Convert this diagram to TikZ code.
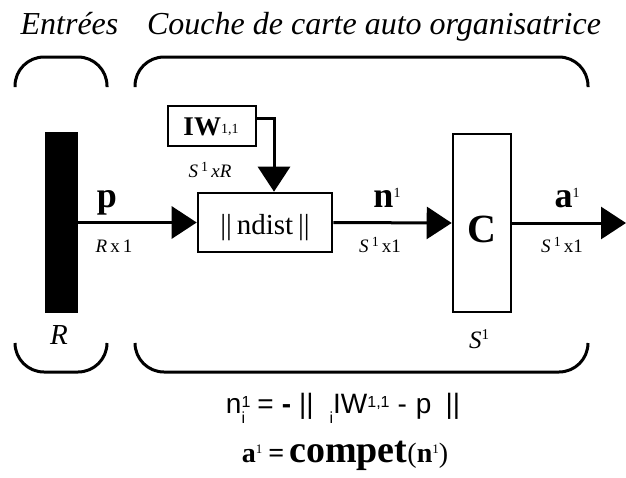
\documentclass[tikz,border=0pt]{standalone}
\usepackage{fontspec}
\setmainfont{Liberation Serif}
\setsansfont{Liberation Sans}
\usetikzlibrary{arrows.meta}
\newcommand{\fs}[1]{\fontsize{#1}{#1}\selectfont}
\newcommand{\sups}[3]{\raisebox{#2}{\fs{#3}#1}}
\begin{document}
\begin{tikzpicture}[x=1pt,y=-1pt,
  box/.style={draw, line width=2.6pt, inner sep=0pt},
  conn/.style={line width=3pt, -{Triangle[length=25pt,width=32pt]}},
  brk/.style={line width=3pt, rounded corners=29pt},
  lbl/.style={anchor=base, inner sep=0pt},
  dim/.style={anchor=base, inner sep=0pt, font=\fs{19}\itshape}]
\useasboundingbox (0,0) rectangle (626,477);
% titles
\node[lbl, font=\fs{32}\itshape] (t1) at (69.5,34) {Entrées};
\node[lbl, font=\fs{32}\itshape] (t2) at (374,34) {Couche de carte auto organisatrice};
% brackets
\draw[brk] (15,87) -- (15,57) -- (107,57) -- (107,87);
\draw[brk] (135,87) -- (135,57) -- (588,57) -- (588,87);
\draw[brk] (15,343) -- (15,372) -- (107,372) -- (107,343);
\draw[brk] (135,343) -- (135,372) -- (588,372) -- (588,343);
% blocks
\node[box, fill=black, minimum width=31pt, minimum height=179pt] (bar) at (61.5,222.5) {};
\node[box, minimum width=134pt, minimum height=59pt] (nd) at (265,222.5) {};
\node[box, minimum width=58pt, minimum height=178pt] (C) at (482,223) {};
\node[box, minimum width=88pt, minimum height=40pt] (IW) at (212,126) {};
\coordinate (out) at (626,223);
% block texts
\node[lbl, font=\fs{29}] (ndt) at (265,234) {||\,ndist\,||};
\node[lbl, font=\fs{40}\bfseries] (Ct) at (482,242) {C};
\node[lbl] (IWt) at (211,135) {\fs{27}\bfseries IW\sups{\mdseries 1,1}{2pt}{14}};
% connectors
\draw[conn] (bar.east) -- (nd.west);
\draw[conn] (nd.east) -- (C.west);
\draw[conn] (C.east) -- (out);
\draw[conn] ([yshift=8pt]IW.east) -| ([xshift=9pt]nd.north);
% signal labels
\node[lbl, font=\fs{36}\bfseries] (pl) at (107,207) {p};
\node[lbl, font=\fs{36}\bfseries] (nl) at (387,207) {n\sups{\mdseries 1}{10pt}{14}};
\node[lbl, font=\fs{36}\bfseries] (al) at (567,207) {a\sups{\mdseries 1}{10pt}{14}};
\node[dim] (pd) at (114,252) {R\,\upshape x\,1};
\node[dim] (nd2) at (380,252) {S\,\sups{\upshape 1}{6pt}{14}\,\upshape x1};
\node[dim] (ad) at (562,252) {S\,\sups{\upshape 1}{6pt}{14}\,\upshape x1};
\node[dim] (wd) at (210,177) {S\,\sups{\upshape 1}{6pt}{14}\,xR};
\node[lbl, font=\fs{29}\itshape] (Rl) at (59,344) {R};
\node[lbl, font=\fs{25}\itshape] (Sl) at (479,348) {S\raisebox{9pt}{\fs{15}\upshape 1}};
% equations
\node[lbl, font=\sffamily\fs{28}] (eq1) at (343,413) {n\rlap{\raisebox{-10pt}{\fs{16}i}}\raisebox{6pt}{\fs{16}1}\hspace{7pt}=\hspace{8pt}\textbf{-}\hspace{8pt}||\hspace{16pt}\raisebox{-10pt}{\fs{16}i}IW\raisebox{6pt}{\fs{16}1,1}\hspace{8pt}-\hspace{9pt}p\hspace{14pt}||};
\node[lbl] (eq2) at (345,462) {\fs{28}\bfseries a\sups{\mdseries 1}{9pt}{13}\hspace{6pt}=\hspace{5pt}{\fs{38}compet}\mdseries(\bfseries n\sups{\mdseries 1}{9pt}{13}\mdseries)};
\end{tikzpicture}
\end{document}
